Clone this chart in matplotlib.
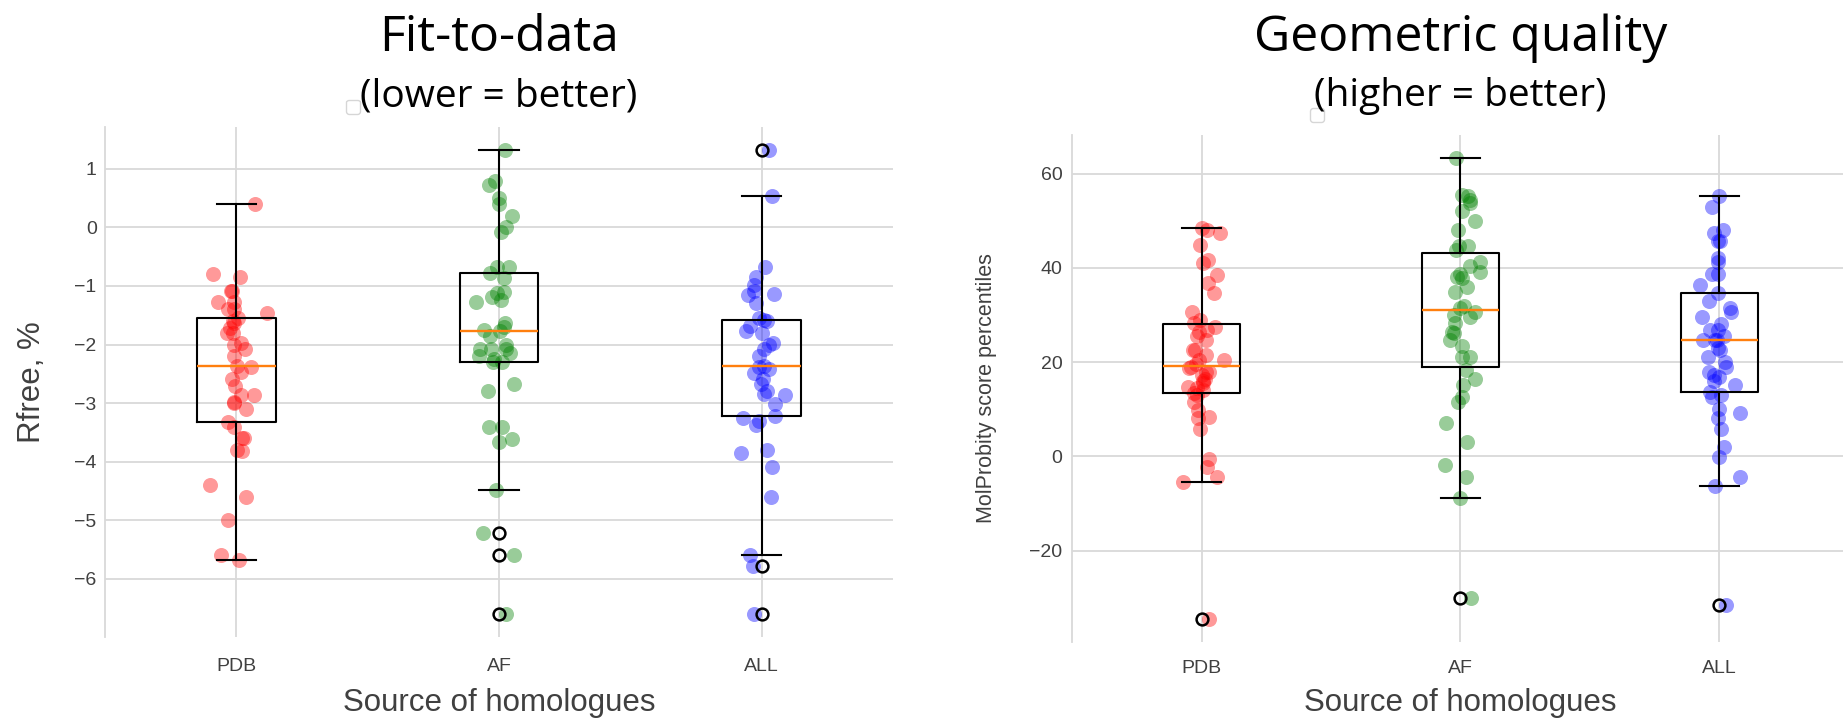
import numpy as np
import matplotlib
matplotlib.use("Agg")
import matplotlib.pyplot as plt

# data
groups = ["PDB", "AF", "ALL"]
colors = ["red", "green", "blue"]

# Fit-to-data: Rfree change, %
rfree_pdb = [0.40, -0.80, -0.85, -1.08, -1.09, -1.27, -1.27, -1.39, -1.39, -1.46,
             -1.55, -1.60, -1.64, -1.72, -1.80, -1.80, -1.97, -2.00, -2.07, -2.20,
             -2.37, -2.39, -2.47, -2.59, -2.71, -2.86, -2.87, -2.99, -3.00, -3.10,
             -3.33, -3.41, -3.59, -3.60, -3.81, -3.82, -4.40, -4.60, -4.99, -5.59,
             -5.68]
rfree_af = [1.32, 0.80, 0.73, 0.51, 0.40, 0.20, 0.00, -0.08, -0.67, -0.67,
            -0.77, -0.87, -1.10, -1.12, -1.19, -1.24, -1.27, -1.63, -1.70, -1.76,
            -1.77, -1.86, -2.00, -2.08, -2.08, -2.08, -2.15, -2.20, -2.25, -2.29,
            -2.29, -2.68, -2.79, -3.41, -3.41, -3.61, -3.67, -4.49, -5.22, -5.59,
            -6.60]
rfree_all = [1.32, 0.53, -0.67, -0.84, -0.98, -1.08, -1.13, -1.15, -1.29, -1.55,
             -1.58, -1.60, -1.69, -1.77, -1.80, -1.97, -2.00, -2.08, -2.20, -2.36,
             -2.38, -2.42, -2.48, -2.59, -2.68, -2.79, -2.85, -2.86, -3.02, -3.22,
             -3.25, -3.30, -3.38, -3.81, -3.86, -4.09, -4.60, -5.59, -5.79, -6.60]

# Geometric quality: MolProbity score percentiles
mp_pdb = [48.5, 48.1, 47.4, 44.9, 41.7, 41.1, 38.5, 36.7, 34.7, 30.7,
          28.9, 28.3, 27.5, 26.8, 26.4, 25.5, 24.7, 22.6, 22.6, 21.5,
          20.4, 20.4, 19.5, 19.0, 18.7, 18.0, 17.9, 17.2, 16.5, 16.0,
          15.5, 14.7, 14.5, 14.0, 13.4, 13.0, 11.6, 9.8, 8.4, 8.2,
          5.9, -0.5, -2.3, -4.3, -5.5, -34.5]
mp_af = [63.3, 55.5, 55.2, 54.5, 53.8, 52.0, 50.0, 48.1, 44.7, 44.7,
         43.8, 41.3, 40.3, 39.2, 38.7, 38.1, 37.8, 36.0, 34.8, 31.8,
         31.4, 30.7, 30.0, 29.6, 28.2, 26.4, 26.1, 24.7, 23.5, 21.1,
         21.1, 18.3, 16.5, 15.1, 12.6, 11.6, 7.0, 3.0, -1.9, -4.4,
         -8.9, -30.1]
mp_all = [55.3, 52.9, 48.1, 47.4, 45.6, 45.6, 42.1, 41.3, 38.7, 38.7,
          36.4, 34.6, 33.0, 31.5, 30.7, 29.6, 28.0, 26.8, 26.8, 25.5,
          24.7, 24.7, 24.7, 23.0, 22.6, 21.1, 20.0, 19.0, 18.0, 17.2,
          16.9, 16.0, 15.1, 13.0, 13.7, 12.5, 10.1, 9.2, 8.1, 5.9,
          2.0, -0.1, -4.4, -6.3, -31.5]

TICK_FONT = "Liberation Sans"
TITLE_FONT = "Open Sans"
GRID = "0.85"

rng = np.random.default_rng(3)


def draw_panel(ax, data, ylabel, ytick_pad, ylabel_x, ylabel_size, xtick_pad, xlabel_y):
    for i, (vals, col) in enumerate(zip(data, colors)):
        x = i + 1 + rng.normal(0, 0.035, len(vals))
        ax.scatter(x, vals, s=117, color=col, alpha=0.4, linewidths=0, zorder=1)
    ax.boxplot(data, widths=0.3,
               boxprops=dict(color="black", linewidth=1.5),
               whiskerprops=dict(color="black", linewidth=1.5),
               capprops=dict(color="black", linewidth=1.5),
               medianprops=dict(color="#ff7f0e", linewidth=1.7),
               flierprops=dict(marker="o", markerfacecolor="none",
                               markeredgecolor="black", markersize=8.5,
                               markeredgewidth=1.8),
               zorder=3)
    ax.set_xlim(0.5, 3.5)
    ax.set_xticks([1, 2, 3])
    ax.set_xticklabels(groups)
    ax.grid(True, color=GRID, linewidth=1.3)
    ax.set_axisbelow(True)
    for side in ["top", "right", "bottom"]:
        ax.spines[side].set_visible(False)
    ax.spines["left"].set_color(GRID)
    ax.spines["left"].set_linewidth(1.3)
    ax.tick_params(axis="both", length=0, labelsize=14, labelcolor="0.25")
    ax.tick_params(axis="y", pad=ytick_pad)
    ax.tick_params(axis="x", pad=xtick_pad)
    for lab in ax.get_xticklabels() + ax.get_yticklabels():
        lab.set_family(TICK_FONT)
    ax.set_ylabel(ylabel, fontsize=ylabel_size, family=TICK_FONT, color="0.25")
    ax.yaxis.set_label_coords(ylabel_x, 0.5)
    ax.set_xlabel("Source of homologues", fontsize=22.5, family=TICK_FONT,
                  color="0.25", va="top")
    ax.xaxis.set_label_coords(0.5, xlabel_y)
    # empty legend box, as in the original
    ax.legend(handles=[], labels=[], loc="center", bbox_to_anchor=(0.315, 1.04),
              frameon=True, edgecolor="0.8", borderpad=0.5)


fig = plt.figure(figsize=(18.43, 7.2), dpi=100)
ax1 = fig.add_axes([105 / 1843, 1 - 637 / 720, 788 / 1843, 510 / 720])
ax2 = fig.add_axes([1072 / 1843, 1 - 642 / 720, 777 / 1843, 507 / 720])

draw_panel(ax1, [rfree_pdb, rfree_af, rfree_all], "Rfree, %", 6, -0.074, 22.5, 15, -0.10)
draw_panel(ax2, [mp_pdb, mp_af, mp_all], "MolProbity score percentiles", 7, -0.097, 15.5, 13, -0.091)
ax2.set_yticks([-20, 0, 20, 40, 60])

for ax, title, sub in [(ax1, "Fit-to-data", "(lower = better)"),
                       (ax2, "Geometric quality", "(higher = better)")]:
    pos = ax.get_position()
    cx = (pos.x0 + pos.x1) / 2
    fig.text(cx, 1 - 51 / 720, title, ha="center", va="baseline",
             fontsize=36, family=TITLE_FONT, color="black")
    fig.text(cx, 1 - 106 / 720, sub, ha="center", va="baseline",
             fontsize=28, family=TITLE_FONT, color="black")

fig.savefig("out.png", dpi=100)
